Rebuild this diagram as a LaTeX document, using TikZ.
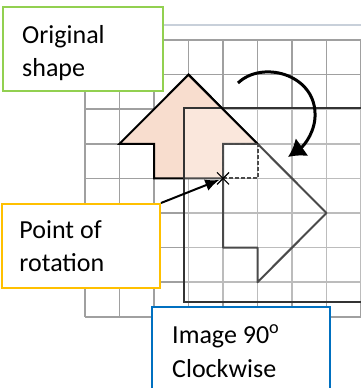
\documentclass[tikz,border=0pt]{standalone}
\usepackage{fontspec}
\setmainfont{Carlito}
\usetikzlibrary{arrows.meta}
\definecolor{peach}{HTML}{F8DDCE}
\definecolor{gridgray}{HTML}{A0A0A0}
\definecolor{topblue}{HTML}{C8D0DA}
\definecolor{boxgreen}{HTML}{92D050}
\definecolor{boxyellow}{HTML}{FFC000}
\definecolor{boxblue}{HTML}{0070C0}
\definecolor{imggray}{HTML}{4A4A4A}
\definecolor{framegray}{HTML}{333333}
\tikzset{
  gridline/.style={draw=gridgray, line width=1.5},
  topline/.style={draw=topblue, line width=2},
  origshape/.style={fill=peach, draw=black, line width=2, line join=miter},
  framebox/.style={draw=framegray, line width=2, fill=white, fill opacity=0.3, draw opacity=1},
  imgline/.style={draw=imggray, line width=2, line join=round},
  imgdash/.style={draw=imggray, line width=2, dash pattern=on 4pt off 2pt},
  rotarrow/.style={draw=black, line width=3, -{Latex[length=17pt,width=22pt]}},
  conn/.style={draw=black, line width=2, -{Latex[length=14pt,width=12pt]}, shorten >=4pt},
  labelbox/.style={draw, line width=2, fill=white, inner sep=0, anchor=north west},
  lbl/.style={font=\fontsize{26}{34}\selectfont, inner sep=0, anchor=base west, text=black}
}
\begin{document}
\begin{tikzpicture}[x=1pt,y=-1pt]
\useasboundingbox (0,0) rectangle (361,388);
\clip (0,0) rectangle (361,388);
\fill[white] (0,0) rectangle (361,388);
% top border line
\draw[topline] (85,25) -- (365,25);
% grid
\foreach \i in {0,...,8} \draw[gridline] ({85+34.5*\i},40) -- ({85+34.5*\i},317);
\foreach \j in {0,...,8} \draw[gridline] (85,{40+34.6*\j}) -- (365,{40+34.6*\j});
% grid coordinates
\begin{scope}[shift={(85,40)}, x=34.5pt, y=-34.6pt]
  \coordinate (A) at (3,1);
  \coordinate (LW) at (1,3);
  \coordinate (SL) at (2,3);
  \coordinate (SLB) at (2,4);
  \coordinate (SRB) at (4,4);
  \coordinate (SR) at (4,3);
  \coordinate (RW) at (5,3);
  \coordinate (T) at (7,5);
  \coordinate (BW) at (5,7);
  \coordinate (B1) at (5,6);
  \coordinate (B2) at (4,6);
  \coordinate (C1) at (5,4);
\end{scope}
% original shape
\draw[origshape] (A) -- (LW) -- (SL) -- (SLB) -- (SRB) -- (SR) -- (RW) -- cycle;
% frame of the image
\draw[framebox] (184,108) rectangle (375,302);
% diagonal kept dark
\draw[draw=black, line width=2] (A) -- (RW);
% image shape
\draw[imgline] (RW) -- (T) -- (BW) -- (B1) -- (B2) -- (SRB);
\draw[imgdash] (SRB) -- (C1) -- (RW);
\draw[imgdash] (SR) -- (SRB);
\draw[imgdash] (SR) -- (RW);
% point of rotation
\coordinate (pivot) at (SRB);
\draw[black, line width=1.2] ([shift={(-6,-6)}]pivot) -- ([shift={(6,6)}]pivot)
  ([shift={(-6,6)}]pivot) -- ([shift={(6,-6)}]pivot);
% curved rotation arrow
\coordinate (cs) at (238,83);
\coordinate (cm) at (315,113);
\coordinate (ce) at (288,157);
\draw[rotarrow] (cs) .. controls (262,60) and (314,74) .. (cm) .. controls (316,130) and (305,145) .. (ce);
% label boxes
\node[labelbox, draw=boxgreen, minimum width=160pt, minimum height=84pt] (orig) at (2,6) {};
\node[lbl] (origA) at (22,43.3) {Original};
\node[lbl] (origB) at (22,76.7) {shape};
\node[labelbox, draw=boxyellow, minimum width=158pt, minimum height=84pt] (por) at (1,203) {};
\node[lbl] (porA) at (19.3,238.3) {Point of};
\node[lbl] (porB) at (19.3,271.7) {rotation};
\node[labelbox, draw=boxblue, minimum width=178pt, minimum height=100pt] (img) at (151,306) {};
\node[lbl] (imgA) at (172,343) {Image 90\textsuperscript{o}};
\node[lbl] (imgB) at (172,377) {Clockwise};
% connector
\draw[conn] (por.north east) -- (pivot);
\end{tikzpicture}
\end{document}
